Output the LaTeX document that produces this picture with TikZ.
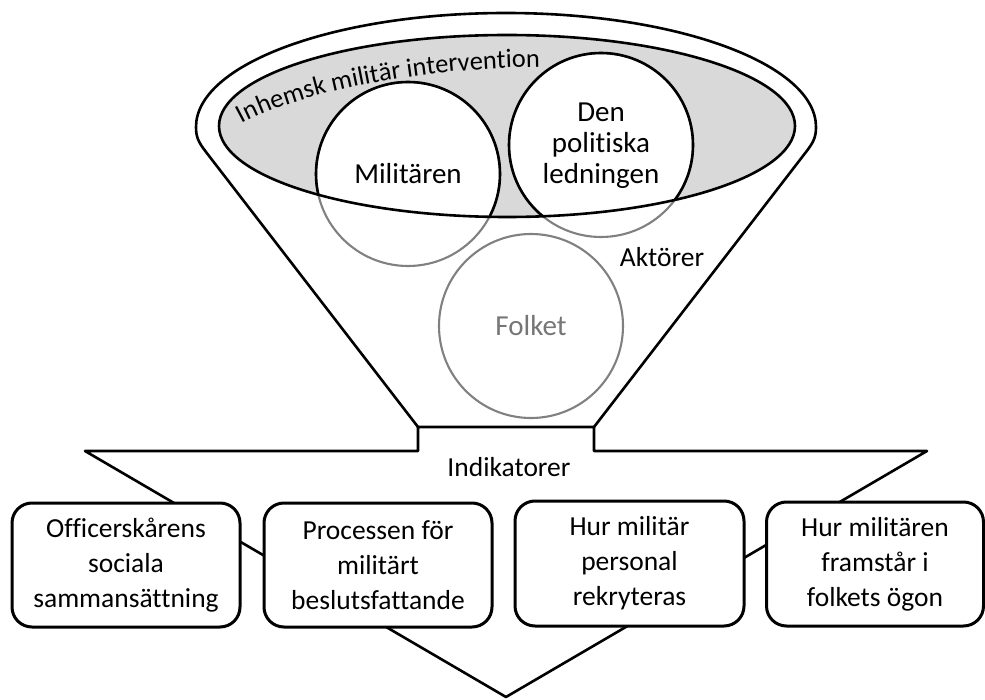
\documentclass[tikz,border=0pt]{standalone}
\usepackage{fontspec}
\setmainfont{Carlito}[Ligatures=NoCommon]
\usetikzlibrary{decorations.text}
\definecolor{ellgray}{RGB}{217,217,217}
\definecolor{linegray}{RGB}{128,128,128}
\definecolor{foltext}{RGB}{118,118,118}
\begin{document}
\begin{tikzpicture}[x=1pt,y=1pt,
  outline/.style={line width=2.6pt, line join=round},
  softline/.style={line width=2.1pt, draw=linegray},
  lbl/.style={font=\fontsize{27.5}{35}\selectfont, align=center, inner sep=0pt},
  circtext/.style={font=\fontsize{29}{31}\selectfont, align=center, inner sep=0pt},
  boxnode/.style={draw, line width=3pt, fill=white, rounded corners=20pt,
    minimum height=124pt, align=center, inner sep=0pt,
    font=\fontsize{27.5}{35}\selectfont}]
\useasboundingbox (0,0) rectangle (985,-700);

% centres of the actor circles and of the intervention ellipse
\coordinate (cMil) at (408,-174);
\coordinate (cPol) at (601,-145);
\coordinate (cFol) at (531,-326);
\coordinate (cEll) at (507,-126);

% downward arrow with its neck
\draw[outline, fill=white] (418,-427) -- (594,-427) -- (594,-451) -- (927,-451)
  -- (506,-697) -- (85,-451) -- (418,-451) -- cycle;

% funnel
\draw[outline] (418,-427) -- (206,-152) .. controls (198.3,-142) and (196,-137) .. (196,-127)
  arc[start angle=180, end angle=0, x radius=310, y radius=114]
  .. controls (816,-137) and (813.7,-142) .. (806,-152) -- (594,-427);

% intervention ellipse with the two actors inside it
\fill[ellgray] (cEll) ellipse[x radius=288, y radius=91];
\begin{scope}
  \clip (cEll) ellipse[x radius=288, y radius=91];
  \fill[white] (cMil) circle[radius=92] (cPol) circle[radius=92];
\end{scope}
\draw[softline] (cMil) circle[radius=92] (cPol) circle[radius=92] (cFol) circle[radius=92];
\begin{scope}
  \clip (cEll) ellipse[x radius=288, y radius=91];
  \draw[outline] (cMil) circle[radius=92] (cPol) circle[radius=92];
\end{scope}
\draw[outline] (cEll) ellipse[x radius=288, y radius=91];

\path[decorate, decoration={text along path, text align=left,
  text={|\fontsize{26.4}{30}\selectfont|Inhemsk militär intervention}}]
  (242,-124) .. controls (300,-92) and (420,-67) .. (550,-67);

\node[circtext] (mil) at (cMil) {Militären};
\node[circtext] (pol) at ([yshift=-1pt]cPol) {Den\\politiska\\ledningen};
\node[circtext, text=foltext] (fol) at (cFol) {Folket};
\node[lbl] (akt) at (662,-257) {Aktörer};
\node[lbl] (ind) at (509,-467) {Indikatorer};

% indicator boxes
\node[boxnode, minimum width=228pt] (b1) at (126,-565) {Officerskårens\\sociala\\sammansättning};
\node[boxnode, minimum width=228pt] (b2) at (378,-565) {Processen för\\militärt\\beslutsfattande};
\node[boxnode, minimum width=229pt, minimum height=125pt] (b3) at (629.5,-563.5) {Hur militär\\personal\\rekryteras};
\node[boxnode, minimum width=217pt] (b4) at (875,-564) {Hur militären\\framstår i\\folkets ögon};
\end{tikzpicture}
\end{document}
